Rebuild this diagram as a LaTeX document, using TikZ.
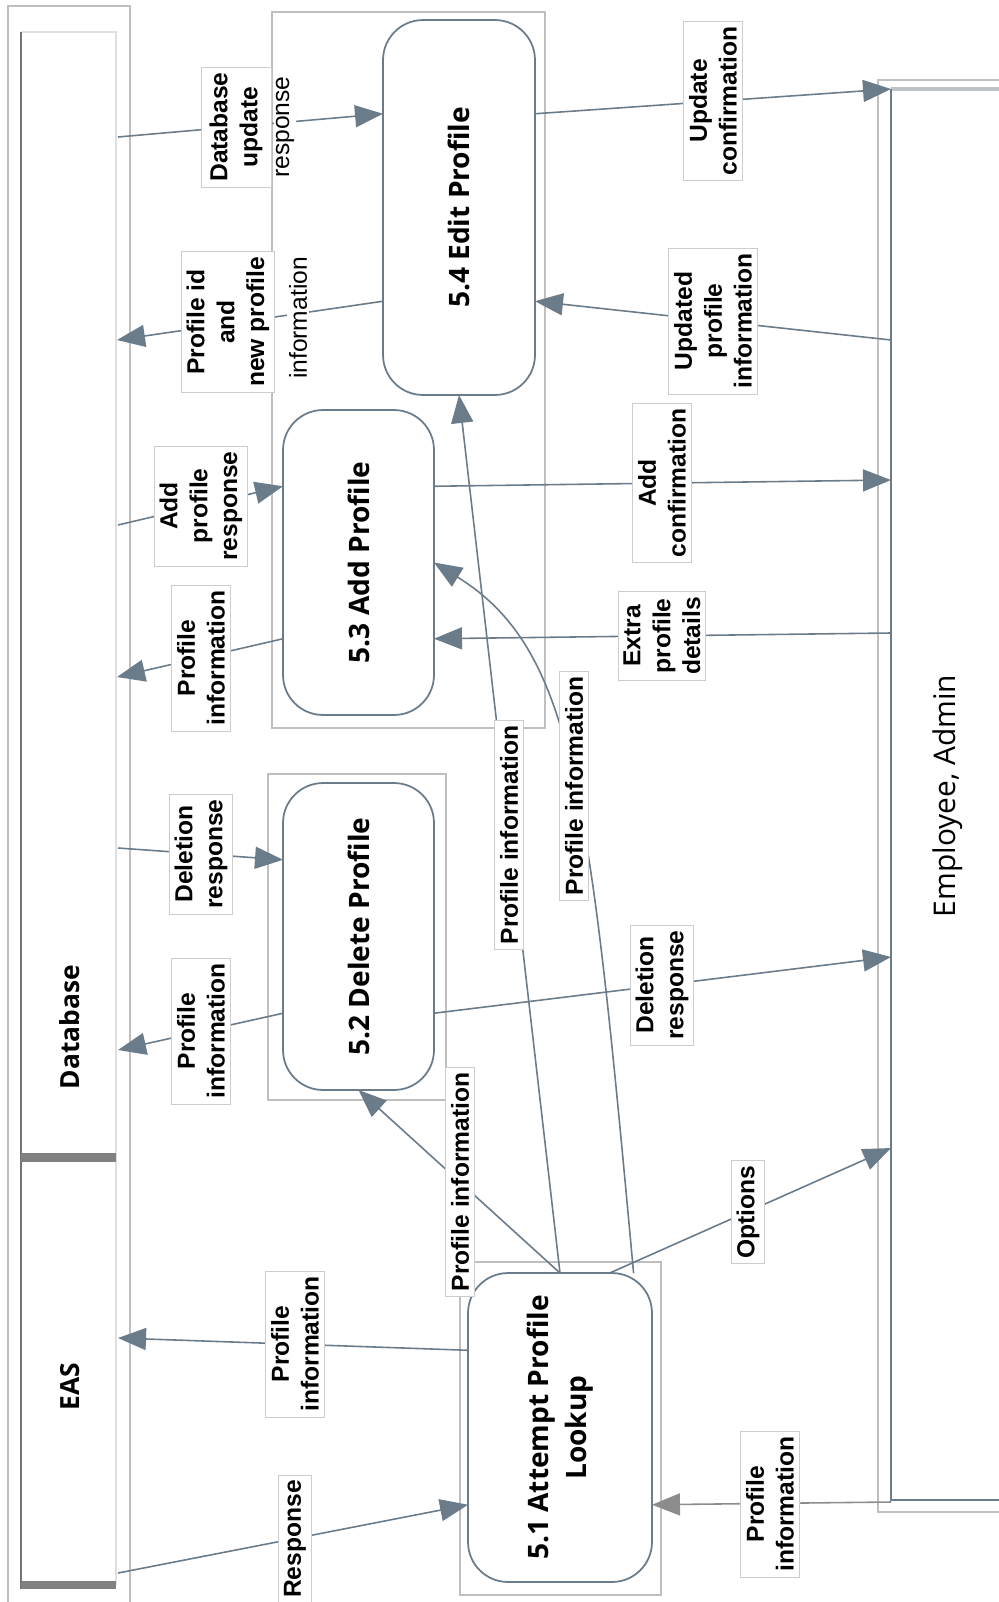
\documentclass[tikz,border=0pt]{standalone}
\usepackage{fontspec}
\setmainfont{Liberation Sans}
\newfontfamily\procfont{Open Sans}
\usetikzlibrary{arrows.meta,calc}
\definecolor{flowc}{RGB}{106,123,138}

\begin{document}
\begin{tikzpicture}[
  x=0.02cm, y=-0.02cm,
  font=\bfseries\fontsize{14}{17}\selectfont,
  grpbox/.style={draw=black!25, line width=0.6pt},
  proc/.style={draw=flowc, line width=1pt, rounded corners=0.8cm, fill=white, inner sep=0pt, outer sep=0pt},
  ptxt/.style={rotate=90, align=center, font=\procfont\bfseries\fontsize{16}{22}\selectfont},
  stxt/.style={rotate=90, font=\procfont\bfseries\fontsize{15}{18}\selectfont},
  flowline/.style={draw=flowc, line width=0.9pt, -{Triangle[length=0.56cm,width=0.44cm]}},
  lbl/.style={draw=black!20, fill=white, rotate=90, align=center, inner sep=3pt},
  spill/.style={fill=white, rotate=90, inner sep=1pt, font=\mdseries\fontsize{14}{17}\selectfont}
]
\path[use as bounding box, fill=white] (0,0) rectangle (998,1602);

\draw[grpbox] (272,12) rectangle (545,728);
\draw[grpbox] (268,774) rectangle (446,1100);
\draw[grpbox] (460,1262) rectangle (661,1595);
\draw[grpbox] (8,6) rectangle (130,1620);
\draw[grpbox] (878,80) rectangle (1010,1512);

\draw[black!12, line width=0.8pt] (21,32) -- (116,32) -- (116,1585);
\draw[black!55, line width=1.2pt] (21,32) -- (21,1589);
\draw[black!50, line width=0.18cm] (21,1157) -- (116,1157);
\draw[black!50, line width=0.16cm] (21,1585) -- (116,1585);
\draw[flowc!45, line width=2.4pt] (891,89) -- (1010,89);
\draw[flowc, line width=1.4pt] (891,89) -- (891,1500) -- (1010,1500);

\node[proc, minimum width=3.04cm, minimum height=7.5cm, label={[ptxt]center:5.4 Edit Profile}] (p54) at (459,207.5) {};
\node[proc, minimum width=3.02cm, minimum height=6.1cm, label={[ptxt]center:5.3 Add Profile}] (p53) at (358.5,562.5) {};
\node[proc, minimum width=3.02cm, minimum height=6.14cm, label={[ptxt]center:5.2 Delete Profile}] (p52) at (358.5,936.5) {};
\node[proc, minimum width=3.68cm, minimum height=6.18cm, label={[ptxt]center:{5.1 Attempt Profile\\Lookup}}] (p51) at (560,1427.5) {};

\coordinate (db1) at (118,137);
\coordinate (db2) at (117,340);
\coordinate (db3) at (118,525);
\coordinate (db4) at (117,677);
\coordinate (db5) at (118,848);
\coordinate (db6) at (118,1050);
\coordinate (eas1) at (118,1338);
\coordinate (eas2) at (118,1573);
\coordinate (emp1) at (891,89);
\coordinate (emp2) at (891,340);
\coordinate (emp3) at (891,480);
\coordinate (emp4) at (891,633);
\coordinate (emp5) at (891,957);
\coordinate (emp6) at (891,1148);
\coordinate (emp7) at (891,1502);

\draw[flowline] (db1) -- ($(p54.north west)!.25!(p54.south west)$);
\draw[flowline] ($(p54.north west)!.75!(p54.south west)$) -- (db2);
\draw[flowline] ($(p54.north east)!.25!(p54.south east)$) -- (emp1);
\draw[flowline] (emp2) -- ($(p54.north east)!.75!(p54.south east)$);
\draw[flowline] (db3) -- ($(p53.north west)!.25!(p53.south west)$);
\draw[flowline] ($(p53.north west)!.75!(p53.south west)$) -- (db4);
\draw[flowline] ($(p53.north east)!.25!(p53.south east)$) -- (emp3);
\draw[flowline] (emp4) -- ($(p53.north east)!.75!(p53.south east)$);
\draw[flowline] (db5) -- ($(p52.north west)!.25!(p52.south west)$);
\draw[flowline] ($(p52.north west)!.75!(p52.south west)$) -- (db6);
\draw[flowline] ($(p52.north east)!.75!(p52.south east)$) -- (emp5);
\draw[flowline] (p51.north) -- (p52.south);
\draw[flowline] (p51.north) -- (p54.south);
\draw[flowline] ($(p51.north west)!.9!(p51.north east)$) .. controls (590,800) and (575,650) .. (p53.east);
\draw[flowline] ($(p51.north west)!.77!(p51.north east)$) -- (emp6);
\draw[flowline, draw=black!45] (emp7) -- ($(p51.north east)!.75!(p51.south east)$);
\draw[flowline] ($(p51.north west)!.25!(p51.south west)$) -- (eas1);
\draw[flowline] (eas2) -- ($(p51.north west)!.75!(p51.south west)$);

\node[lbl, minimum height=1.4cm] (dbupd) at (236,127) {Database\\update};
\node[spill] (dbupdr) at (285,127) {response};
\node[lbl] (pidnew) at (228,322) {Profile id\\and\\new profile};
\node[spill] (pidnewi) at (298,318) {information};
\node[lbl] (updconf) at (713,101) {Update\\confirmation};
\node[lbl] (updinfo) at (713,321) {Updated\\profile\\information};
\node[lbl] (addresp) at (201,506) {Add\\profile\\response};
\node[lbl] (info53) at (201,658) {Profile\\information};
\node[lbl] (addconf) at (662,483) {Add\\confirmation};
\node[lbl] (extra) at (662,636) {Extra\\profile\\details};
\node[lbl] (delresp) at (201,854) {Deletion\\response};
\node[lbl] (info52) at (201,1031) {Profile\\information};
\node[lbl] (delconf) at (662,985) {Deletion\\response};
\node[lbl] (info12) at (460,1182) {Profile information};
\node[lbl] (info14) at (509,835) {Profile information};
\node[lbl] (info13) at (574,786) {Profile information};
\node[lbl] (opts) at (748,1212) {Options};
\node[lbl] (infoemp) at (770,1504) {Profile\\information};
\node[lbl] (infoeas) at (295,1344) {Profile\\information};
\node[lbl] (resp) at (295,1539) {Response};

\node[stxt] (dbtxt) at (70,1027) {Database};
\node[stxt] (eastxt) at (70,1387) {EAS};
\node[rotate=90, font=\procfont\fontsize{17}{20}\selectfont] (emptxt) at (948,796) {Employee, Admin};
\end{tikzpicture}
\end{document}
